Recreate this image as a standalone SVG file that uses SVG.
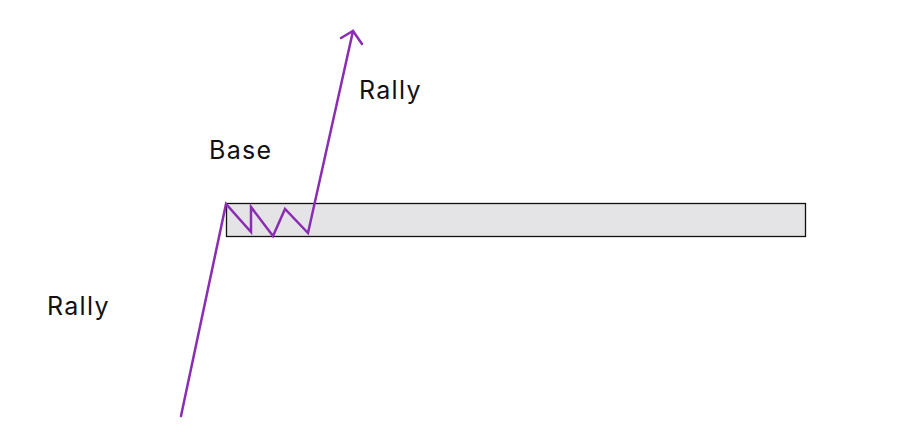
<svg xmlns="http://www.w3.org/2000/svg" width="900" height="439" viewBox="0 0 900 439">
<style>
.lbl{font-family:"Inter","Liberation Sans",sans-serif;font-size:25px;letter-spacing:1.3px;fill:#111}
.ln{fill:none;stroke:#8B2DB3;stroke-width:2.5;stroke-linejoin:miter;stroke-linecap:round}
</style>
<rect width="900" height="439" fill="#fff"/>
<g id="base-zone"><rect x="226.5" y="203.5" width="579" height="33" fill="#e4e4e6" stroke="#111" stroke-width="1.3"/></g>
<g id="connectors">
<polyline class="ln" points="181,416 226,204 251,232 251,207 273,236 285,209 308,233 353,31"/>
<polyline class="ln" points="341,38 353,31 362,44"/>
</g>
<g id="label-rally-low"><text class="lbl" x="47" y="315">Rally</text></g>
<g id="label-base"><text class="lbl" x="209" y="159">Base</text></g>
<g id="label-rally-high"><text class="lbl" x="359" y="99">Rally</text></g>
</svg>
